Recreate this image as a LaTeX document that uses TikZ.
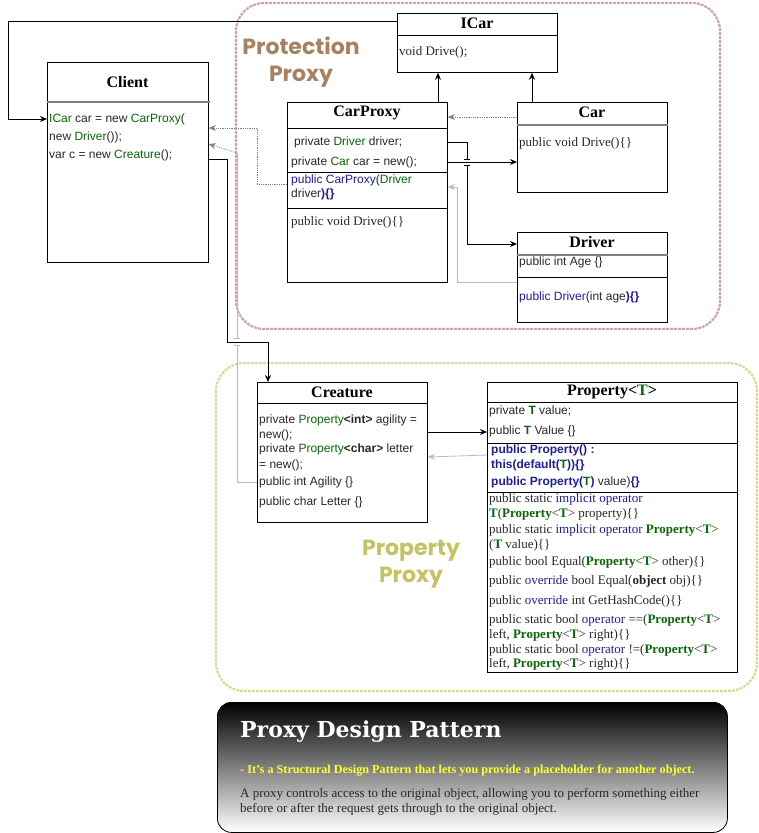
\documentclass[tikz,border=0pt]{standalone}
\usepackage{fontspec}
\setmainfont{Liberation Serif}
\setsansfont{Liberation Sans}
\newfontfamily\handfont{Poppins}
\newfontfamily\infofont{DejaVu Serif}
\usetikzlibrary{arrows.meta}

\definecolor{tgreen}{RGB}{10,100,10}
\definecolor{tblue}{RGB}{30,30,150}
\definecolor{txt}{RGB}{40,40,40}
\definecolor{protline}{RGB}{205,165,170}
\definecolor{prottext}{RGB}{165,130,100}
\definecolor{propline}{RGB}{218,218,160}
\definecolor{proptext}{RGB}{195,195,100}
\definecolor{infoyellow}{RGB}{255,255,40}

\newcommand{\gr}[1]{\textcolor{tgreen}{#1}}
\newcommand{\bl}[1]{\textcolor{tblue}{#1}}
\newcommand{\gT}{\textcolor{tgreen}{\textbf{T}}}
\newcommand{\gP}{\textcolor{tgreen}{\textbf{Property}}}

\begin{document}
\begin{tikzpicture}[x=1pt,y=-1pt]
		\tikzstyle{every node}+=[inner sep=0pt]
		\tikzstyle{cls}=[draw, anchor=north west, line width=0.8pt]
		\tikzstyle{ttl}=[font=\fontsize{16}{18}\selectfont\bfseries]
		\tikzstyle{mem}=[anchor=west, font=\sffamily\fontsize{12}{14}\selectfont, text=txt]
		\tikzstyle{smem}=[anchor=west, font=\fontsize{13}{15}\selectfont, text=txt]
		\tikzstyle{sep}=[line width=0.8pt]
		\tikzstyle{hsep}=[line width=1.3pt, gray]
		\tikzstyle{arr}=[-{Stealth[length=7pt,width=6pt]}, line width=0.8pt]
		\tikzstyle{dep}=[arr, gray, densely dotted]
		\tikzstyle{use}=[arr, gray!55]
		\tikzstyle{region}=[line width=2.2pt, dash pattern=on 3pt off 1pt, rounded corners=28pt]
		\useasboundingbox (0,0) rectangle (759,833);

		\draw [region, protline] (236,3) rectangle (720,329);
		\draw [region, propline] (216,363) rectangle (757,691);
		\node [font=\handfont\bfseries\fontsize{22}{27}\selectfont, text=prottext, align=center] (protlbl) at (301,62) {Protection\\Proxy};
		\node [font=\handfont\bfseries\fontsize{22}{27}\selectfont, text=proptext, align=center] (proplbl) at (411,564) {Property\\Proxy};

		\node [cls, minimum width=161pt, minimum height=200pt] (client) at (47,62) {};
		\draw [hsep] (client.west |- 0,102) -- (210,102);
		\node [ttl] (clientttl) at (127.5,82) {Client};
		\node [mem] (cicar) at (49,119) {\gr{ICar} car = new \gr{CarProxy}(};
		\node [mem] (cnew) at (49,137) {new \gr{Driver}());};
		\node [mem] (cvar) at (49,155) {var c = new \gr{Creature}();};

		\node [cls, minimum width=160pt, minimum height=59pt] (icar) at (397,13) {};
		\draw [sep] (icar.west |- 0,35) -- (icar.east |- 0,35);
		\node [ttl] (icarttl) at (477,23) {ICar};
		\node [smem] (idrive) at (399,52) {void Drive();};

		\node [cls, minimum width=160pt, minimum height=180pt] (carproxy) at (287,102) {};
		\draw [sep] (carproxy.west |- 0,128) -- (carproxy.east |- 0,128);
		\draw [sep] (carproxy.west |- 0,172) -- (carproxy.east |- 0,172);
		\draw [sep] (carproxy.west |- 0,208) -- (carproxy.east |- 0,208);
		\node [ttl] (carproxyttl) at (367,113) {CarProxy};
		\node [mem] (cpdriver) at (294,142) {private \gr{Driver} driver;};
		\node [mem] (cpcar) at (291,162) {private \gr{Car} car = new();};
		\node [mem] (cpctor) at (291,180) {\bl{public CarProxy(}\gr{Driver}};
		\node [mem] (cpctorb) at (291,194) {driver\bl{\textbf{)\{\}}}};
		\node [smem] (cpdrive) at (291,222) {public void Drive()\{\}};

		\node [cls, minimum width=150pt, minimum height=90pt] (car) at (517,102) {};
		\draw [hsep] (car.west |- 0,125) -- (car.east |- 0,125);
		\node [ttl] (carttl) at (592,112) {Car};
		\node [smem] (cdrive) at (519,143) {public void Drive()\{\}};

		\node [cls, minimum width=150pt, minimum height=90pt] (driver) at (517,232) {};
		\draw [hsep] (driver.west |- 0,255) -- (driver.east |- 0,255);
		\draw [sep] (driver.west |- 0,277) -- (driver.east |- 0,277);
		\node [ttl] (driverttl) at (592,242) {Driver};
		\node [mem] (dage) at (519,262) {public int Age \{\}};
		\node [mem] (dctor) at (519,297) {\bl{public Driver(}int age\bl{\textbf{)\{\}}}};

		\node [cls, minimum width=170pt, minimum height=140pt] (creature) at (257,382) {};
		\draw [sep] (creature.west |- 0,403) -- (creature.east |- 0,403);
		\node [ttl] (creaturettl) at (342,392) {Creature};
		\node [mem] (cragil) at (259,420) {private \gr{Property}\textbf{<int>} agility =};
		\node [mem] (cragilb) at (259,435) {new();};
		\node [mem] (crlet) at (259,449) {private \gr{Property}\textbf{<char>} letter};
		\node [mem] (crletb) at (259,465) {= new();};
		\node [mem] (crAgil) at (259,482) {public int Agility \{\}};
		\node [mem] (crLet) at (259,502) {public char Letter \{\}};

		\node [cls, minimum width=250pt, minimum height=290pt] (property) at (487,382) {};
		\draw [sep] (property.west |- 0,402) -- (property.east |- 0,402);
		\draw [sep] (property.west |- 0,443) -- (property.east |- 0,443);
		\draw [sep] (property.west |- 0,492) -- (property.east |- 0,492);
		\node [ttl] (propertyttl) at (612,392) {Property<\textcolor{tgreen}{T}>};
		\node [mem] (pval) at (489,411) {private \gT\ value;};
		\node [mem] (pVal) at (489,431) {public \gT\ Value \{\}};
		\node [mem, font=\sffamily\bfseries\fontsize{12}{14}\selectfont, text=tblue] (pctor) at (491,450) {public Property() :};
		\node [mem, font=\sffamily\bfseries\fontsize{12}{14}\selectfont, text=tblue] (pctorb) at (491,465) {this(default(\gT))\{\}};
		\node [mem, font=\sffamily\bfseries\fontsize{12}{14}\selectfont, text=tblue] (pctorc) at (491,482) {public Property(\gT) \textcolor{txt}{\mdseries value)}\{\}};
		\node [smem] (pimpa) at (489,499) {public static \bl{implicit operator}};
		\node [smem] (pimpb) at (489,514) {\gT(\gP<\gT> property)\{\}};
		\node [smem] (pimpc) at (489,530) {public static \bl{implicit operator} \gP<\gT>};
		\node [smem] (pimpd) at (489,545) {(\gT\ value)\{\}};
		\node [smem] (peq) at (489,562) {public bool Equal(\gP<\gT> other)\{\}};
		\node [smem] (peqo) at (489,581) {public \bl{override} bool Equal(\textbf{object} obj)\{\}};
		\node [smem] (phash) at (489,601) {public \bl{override} int GetHashCode()\{\}};
		\node [smem] (popeqa) at (489,620) {public static bool \bl{operator} ==(\gP<\gT>};
		\node [smem] (popeqb) at (489,635) {left, \gP<\gT> right)\{\}};
		\node [smem] (popnea) at (489,650) {public static bool \bl{operator} !=(\gP<\gT>};
		\node [smem] (popneb) at (489,664) {left, \gP<\gT> right)\{\}};

		\node [draw, line width=0.8pt, rounded corners=14pt, top color=black, bottom color=white, anchor=north west, minimum width=510pt, minimum height=130pt] (info) at (217,702) {};
		\node [anchor=west, text=white, font=\infofont\bfseries\fontsize{22}{26}\selectfont] (infottl) at (240,732) {Proxy Design Pattern};
		\node [anchor=west, text=infoyellow, font=\bfseries\fontsize{12.2}{14}\selectfont] (infosub) at (240,771) {- It's a Structural Design Pattern that lets you provide a placeholder for another object.};
		\node [anchor=north west, text=txt, align=left, font=\fontsize{13}{15}\selectfont] (infotxt) at (240,788) {A proxy controls access to the original object, allowing you to perform something either\\before or after the request gets through to the original object.};

		\coordinate (loopl) at (8,21);
		\draw [arr] (icar.west |- 0,21) -- (loopl) |- (client.west |- cicar);
		\draw [arr] (carproxy.north -| 438,0) -- (icar.south -| 438,0);
		\draw [arr] (car.north -| 532,0) -- (icar.south -| 532,0);
		\draw [dep] (car.west |- 0,117) -- (carproxy.east |- 0,117);
		\coordinate (jmp) at (467,162);
		\draw [sep] (carproxy.east |- cpdriver) -| ([yshift=3pt]jmp);
		\draw [sep] ([xshift=-3pt,yshift=3pt]jmp) -- ([xshift=3pt,yshift=3pt]jmp);
		\draw [sep] ([xshift=-3pt,yshift=-3pt]jmp) -- ([xshift=3pt,yshift=-3pt]jmp);
		\draw [arr] ([yshift=-3pt]jmp) |- (driver.west |- 0,244);
		\draw [arr] (carproxy.east |- cpcar) -- (car.west |- cpcar);
		\draw [use] (driver.west |- 0,282) -- (457,282) -- (457,187) -- (carproxy.east |- 0,187);
		\draw [dep] (carproxy.west |- 0,184) -- (257,184) -- (257,128) -- (client.east |- 0,128);
		\coordinate (agjmp) at (237,342);
		\draw [sep, gray!55] (creature.west |- crAgil) -| ([yshift=-3.5pt]agjmp);
		\draw [sep, gray!55] ([xshift=-3pt,yshift=-3.5pt]agjmp) -- ([xshift=3pt,yshift=-3.5pt]agjmp);
		\draw [sep, gray!55] ([xshift=-3pt,yshift=3.5pt]agjmp) -- ([xshift=3pt,yshift=3.5pt]agjmp);
		\draw [sep, gray!55] ([yshift=3.5pt]agjmp) -- (237,153);
		\draw [dep] (237,153) -- (client.east |- 0,144);
		\draw [arr] (client.east |- 0,159) -- (227,159) -- (agjmp -| 227,0) -| (creature.north -| 268,0);
		\draw [arr] (creature.east |- 0,432) -- (property.west |- 0,432);
		\draw [use] (property.west |- 0,455) -- (creature.east |- 0,457);
	\end{tikzpicture}
\end{document}
